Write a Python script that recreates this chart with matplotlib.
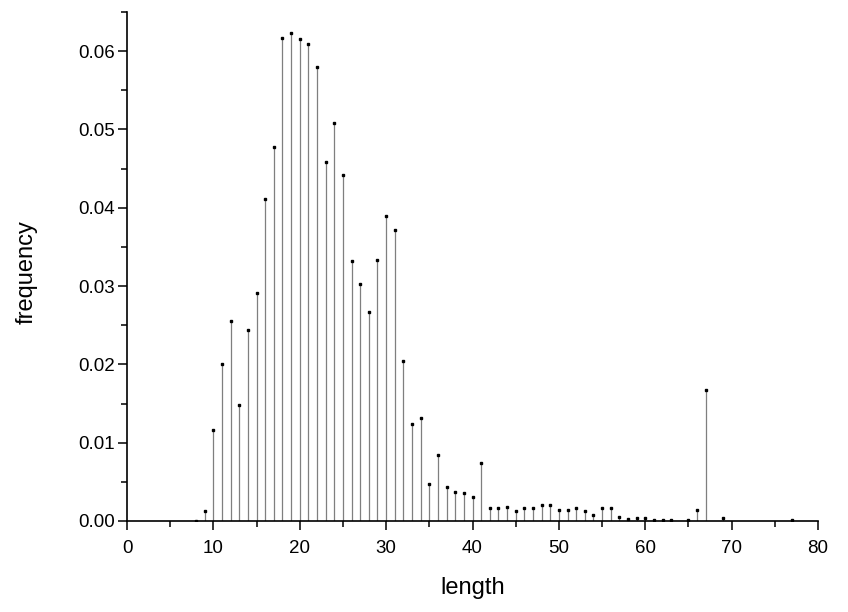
import matplotlib.pyplot as plt
from matplotlib.ticker import MultipleLocator

plt.rcParams['font.family'] = ['Liberation Sans', 'DejaVu Sans']

# length values and their frequencies
length = [8, 9, 10, 11, 12, 13, 14, 15, 16, 17, 18, 19, 20, 21, 22, 23, 24, 25,
          26, 27, 28, 29, 30, 31, 32, 33, 34, 35, 36, 37, 38, 39, 40, 41, 42, 43,
          44, 45, 46, 47, 48, 49, 50, 51, 52, 53, 54, 55, 56, 57, 58, 59, 60, 61,
          62, 63, 65, 66, 67, 69, 77]
frequency = [0.00004, 0.0013, 0.0116, 0.0200, 0.0256, 0.01485, 0.0244, 0.0291,
             0.0411, 0.0477, 0.0617, 0.0623, 0.0616, 0.0609, 0.0580, 0.0459,
             0.0508, 0.0442, 0.0332, 0.0303, 0.0267, 0.0333, 0.0389, 0.0372,
             0.0204, 0.0124, 0.0131, 0.0047, 0.0084, 0.0043, 0.0037, 0.0036,
             0.0031, 0.0074, 0.0017, 0.0017, 0.0018, 0.0013, 0.0016, 0.0017,
             0.0021, 0.0020, 0.0014, 0.0014, 0.0017, 0.0013, 0.0008, 0.0017,
             0.0017, 0.00055, 0.0003, 0.0004, 0.0004, 0.00017, 0.0001, 0.0001,
             0.0001, 0.0014, 0.0167, 0.0004, 0.0001]

fig = plt.figure(figsize=(8.48, 6.12), dpi=100)
ax = fig.add_axes([0.1498, 0.1487, 0.8148, 0.8317])

ax.vlines(length, 0, frequency, colors='#7f7f7f', linewidth=0.9)
ax.plot(length, frequency, 's', color='black', markersize=2.0, linestyle='none')

ax.set_xlim(0, 80)
ax.set_ylim(0, 0.065)
ax.xaxis.set_major_locator(MultipleLocator(10))
ax.xaxis.set_minor_locator(MultipleLocator(5))
ax.yaxis.set_major_locator(MultipleLocator(0.01))
ax.yaxis.set_minor_locator(MultipleLocator(0.005))
ax.yaxis.set_major_formatter(plt.FormatStrFormatter('%.2f'))

ax.spines['top'].set_visible(False)
ax.spines['right'].set_visible(False)
for s in ['left', 'bottom']:
    ax.spines[s].set_linewidth(1.2)
ax.tick_params(which='major', direction='out', length=6.5, width=1.1, labelsize=13.5)
ax.tick_params(axis='x', which='major', pad=7)
ax.tick_params(axis='y', which='major', pad=2.5)
ax.tick_params(which='minor', direction='out', length=4, width=1.1)

ax.set_xlabel('length', fontsize=17)
ax.set_ylabel('frequency', fontsize=17)
ax.xaxis.label.set_va('center')
ax.yaxis.label.set_va('center')
ax.xaxis.set_label_coords(0.5, -0.131)
ax.yaxis.set_label_coords(-0.146, 0.49)

fig.savefig('out.png', dpi=100)
